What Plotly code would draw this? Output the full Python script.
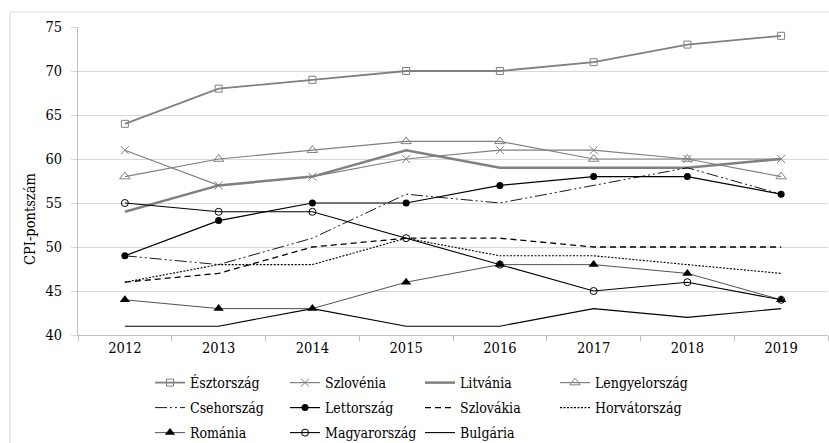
import plotly.graph_objects as go

years = ["2012", "2013", "2014", "2015", "2016", "2017", "2018", "2019"]
esztorszag = [64, 68, 69, 70, 70, 71, 73, 74]
szlovenia = [61, 57, 58, 60, 61, 61, 60, 60]
litvania = [54, 57, 58, 61, 59, 59, 59, 60]
lengyelorszag = [58, 60, 61, 62, 62, 60, 60, 58]
csehorszag = [49, 48, 51, 56, 55, 57, 59, 56]
lettorszag = [49, 53, 55, 55, 57, 58, 58, 56]
szlovakia = [46, 47, 50, 51, 51, 50, 50, 50]
horvatorszag = [46, 48, 48, 51, 49, 49, 48, 47]
romania = [44, 43, 43, 46, 48, 48, 47, 44]
magyarorszag = [55, 54, 54, 51, 48, 45, 46, 44]
bulgaria = [41, 41, 43, 41, 41, 43, 42, 43]

GRAY = "#808080"
BLACK = "#000000"

series = [
    ("Észtország", esztorszag, dict(color=GRAY, width=1.8), dict(symbol="square-open", size=7, color=GRAY, line=dict(width=1)), "legend"),
    ("Szlovénia", szlovenia, dict(color=GRAY, width=1.2), dict(symbol="x-thin-open", size=8, color=GRAY, line=dict(width=1, color=GRAY)), "legend"),
    ("Litvánia", litvania, dict(color=GRAY, width=2.5), None, "legend"),
    ("Lengyelország", lengyelorszag, dict(color=GRAY, width=1.2), dict(symbol="triangle-up-open", size=9, color=GRAY, line=dict(width=1)), "legend"),
    ("Csehország", csehorszag, dict(color=BLACK, width=0.9, dash="12px,3px,2px,3px,2px,3px"), None, "legend2"),
    ("Lettország", lettorszag, dict(color=BLACK, width=1.2), dict(symbol="circle", size=7, color=BLACK), "legend2"),
    ("Szlovákia", szlovakia, dict(color=BLACK, width=1.3, dash="6px,4px"), None, "legend2"),
    ("Horvátország", horvatorszag, dict(color=BLACK, width=1.1, dash="2px,1.5px"), None, "legend2"),
    ("Románia", romania, dict(color="#404040", width=0.9), dict(symbol="triangle-up", size=9, color=BLACK), "legend3"),
    ("Magyarország", magyarorszag, dict(color=BLACK, width=1.1), dict(symbol="circle-open", size=7, color=BLACK, line=dict(width=1)), "legend3"),
    ("Bulgária", bulgaria, dict(color=BLACK, width=1.1), None, "legend3"),
]

fig = go.Figure()
for name, vals, line, marker, leg in series:
    kw = dict(x=years, y=vals, name=name, line=line, legend=leg)
    if marker is None:
        kw["mode"] = "lines"
    else:
        kw["mode"] = "lines+markers"
        kw["marker"] = marker
    fig.add_trace(go.Scatter(**kw))

# invisible spacer entries so the last legend column is not clipped
for leg in ["legend", "legend2"]:
    fig.add_trace(go.Scatter(x=[None], y=[None], name=" ", mode="lines",
                             line=dict(width=0, color="rgba(0,0,0,0)"), legend=leg,
                             hoverinfo="skip"))

FONT = "DejaVu Serif Condensed, DejaVu Serif"


def legend_row(y_px):
    return dict(
        orientation="h", x=(150 - 78) / 750, y=(335 - y_px) / 308,
        xanchor="left", yanchor="middle",
        font=dict(family=FONT, size=14, color="black"),
        entrywidth=90, entrywidthmode="pixels",
        traceorder="normal", itemwidth=30, bgcolor="rgba(0,0,0,0)",
    )


fig.update_layout(
    width=829, height=443,
    margin=dict(l=78, r=1, t=27, b=108, autoexpand=False),
    paper_bgcolor="white", plot_bgcolor="white",
    font=dict(family=FONT, size=14, color="black"),
    showlegend=True,
    legend=legend_row(383),
    legend2=legend_row(408),
    legend3=legend_row(433),
    xaxis=dict(
        type="category", showgrid=False, showline=True, linecolor="#bfbfbf", linewidth=1,
        ticks="outside", tickson="boundaries", ticklen=5, tickcolor="#bfbfbf",
        tickfont=dict(family=FONT, size=14.5), range=[-0.5, 7.5], automargin=False,
    ),
    yaxis=dict(
        range=[40, 75], dtick=5, showgrid=True, gridcolor="#d9d9d9", gridwidth=1,
        showline=True, linecolor="#bfbfbf", ticks="outside", ticklen=6, tickcolor="#d9d9d9",
        tickfont=dict(family=FONT, size=14.5), zeroline=False, automargin=False,
        ticklabelstandoff=6,
    ),
    annotations=[dict(text="CPI-pontszám", xref="paper", yref="paper",
                      x=(30 - 78) / 750, y=(335 - 219) / 308, textangle=-90,
                      showarrow=False, font=dict(family=FONT, size=14.5, color="black"),
                      xanchor="center", yanchor="middle")],
    shapes=[dict(type="rect", xref="paper", yref="paper",
                 x0=(10 - 78) / 750, x1=1.01, y0=-0.4, y1=(335 - 12) / 308,
                 line=dict(color="#d9d9d9", width=1), layer="below")],
)

fig.write_html("out.html", config={"displayModeBar": False},
               post_script="document.body.style.margin='0';document.body.style.padding='0';")
